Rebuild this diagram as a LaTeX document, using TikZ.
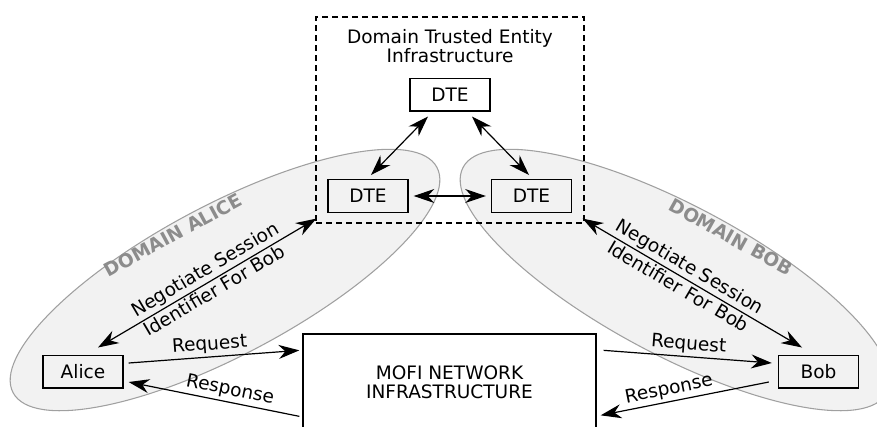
\documentclass[tikz,border=0pt]{standalone}
\usepackage{fontspec}
\setmainfont{DejaVu Sans}
\usepackage{tikz}
\usetikzlibrary{calc, arrows.meta}
\usepackage{xcolor}
\definecolor{domainfill}{HTML}{F2F2F2}
\definecolor{domainline}{HTML}{A0A0A0}
\definecolor{domaintext}{HTML}{8C8C8C}

\begin{document}
\begin{tikzpicture}[x=0.75pt, y=-0.75pt, font=\fontsize{13.9}{14.5}\selectfont,
            box/.style={draw, line width=1pt, inner sep=0pt, minimum width=60pt, minimum height=24.5pt},
            link/.style={line width=0.9pt, -{Stealth[length=15.5pt, width=10.5pt, inset=5pt]}},
            rlink/.style={line width=0.9pt, {Stealth[length=15.5pt, width=10.5pt, inset=5pt]}-},
            dlink/.style={line width=0.9pt, {Stealth[length=15.5pt, width=10.5pt, inset=5pt]}-{Stealth[length=15.5pt, width=10.5pt, inset=5pt]}},
            domainarea/.style={fill=domainfill, draw=domainline, line width=0.8pt},
            dlabel/.style={text=domaintext, font=\fontsize{14}{16}\selectfont\bfseries}]
            \clip (0,0) rectangle (877,426);
            \useasboundingbox (0,0) rectangle (877,426);
            \draw[domainarea, rotate around={28:(225,280)}] (225,280) ellipse [x radius=240, y radius=75];
            \draw[domainarea, rotate around={-28:(675,280)}] (675,280) ellipse [x radius=240, y radius=75];
            \node[dlabel, rotate=28.5] (domalice) at (173,235) {DOMAIN ALICE};
            \node[dlabel, rotate=-29] (dombob) at (731,237) {DOMAIN BOB};
            \node[draw, dash pattern=on 4.5pt off 3pt, line width=0.9pt, minimum width=201pt, minimum height=154.5pt, inner sep=0pt] (dti) at (450,120) {};
            \node[align=center] (dtititle) at (450,46) {Domain Trusted Entity\\Infrastructure};
            \node[box] (dtetop) at (450,94.5) {DTE};
            \node[box] (dteleft) at (368,196) {DTE};
            \node[box] (dteright) at (531.5,196) {DTE};
            \node[box] (alice) at (83,371.5) {Alice};
            \node[box] (bob) at (818.5,371.5) {Bob};
            \node[box, fill=white, align=center, minimum width=219.75pt, minimum height=72pt] (mofi) at (449.5,382) {MOFI NETWORK\\INFRASTRUCTURE};
            \draw[dlink] ($(dtetop.south)+(-22,5)$) -- ($(dteleft.north)+(3,-4)$);
            \draw[dlink] ($(dtetop.south)+(22,5)$) -- ($(dteright.north)+(-2.5,-4)$);
            \draw[dlink] ($(dteleft.east)+(5,0)$) -- ($(dteright.west)+(-5,0)$);
            \draw[dlink] ($(alice.north)+(15,-7)$) -- node[sloped, above, inner sep=1.5pt, pos=0.52] {Negotiate Session} node[sloped, below, inner sep=1.5pt, pos=0.51] {Identifier For Bob} ($(dti.south west)+(1,-5)$);
            \draw[dlink] ($(dti.south east)+(-2,-5)$) -- node[sloped, above, inner sep=1.5pt, pos=0.46] {Negotiate Session} node[sloped, below, inner sep=1.5pt, pos=0.46] {Identifier For Bob} ($(bob.north)+(-16.5,-7)$);
            \draw[link] ($(alice.east)+(5,-8.5)$) -- node[sloped, above, inner sep=2pt, pos=0.48] {Request} ($(mofi.north west)+(-3,17)$);
            \draw[rlink] ($(alice.east)+(5,10.5)$) -- node[sloped, above, inner sep=2pt, pos=0.58] {Response} ($(mofi.north west)+(-3,83)$);
            \draw[link] ($(mofi.north east)+(7,17)$) -- node[sloped, above, inner sep=2pt, pos=0.5] {Request} ($(bob.west)+(-6,-8.5)$);
            \draw[rlink] ($(mofi.north east)+(4,82)$) -- node[sloped, above, inner sep=2pt, pos=0.42] {Response} ($(bob.west)+(-9,10.5)$);
        \end{tikzpicture}
\end{document}
